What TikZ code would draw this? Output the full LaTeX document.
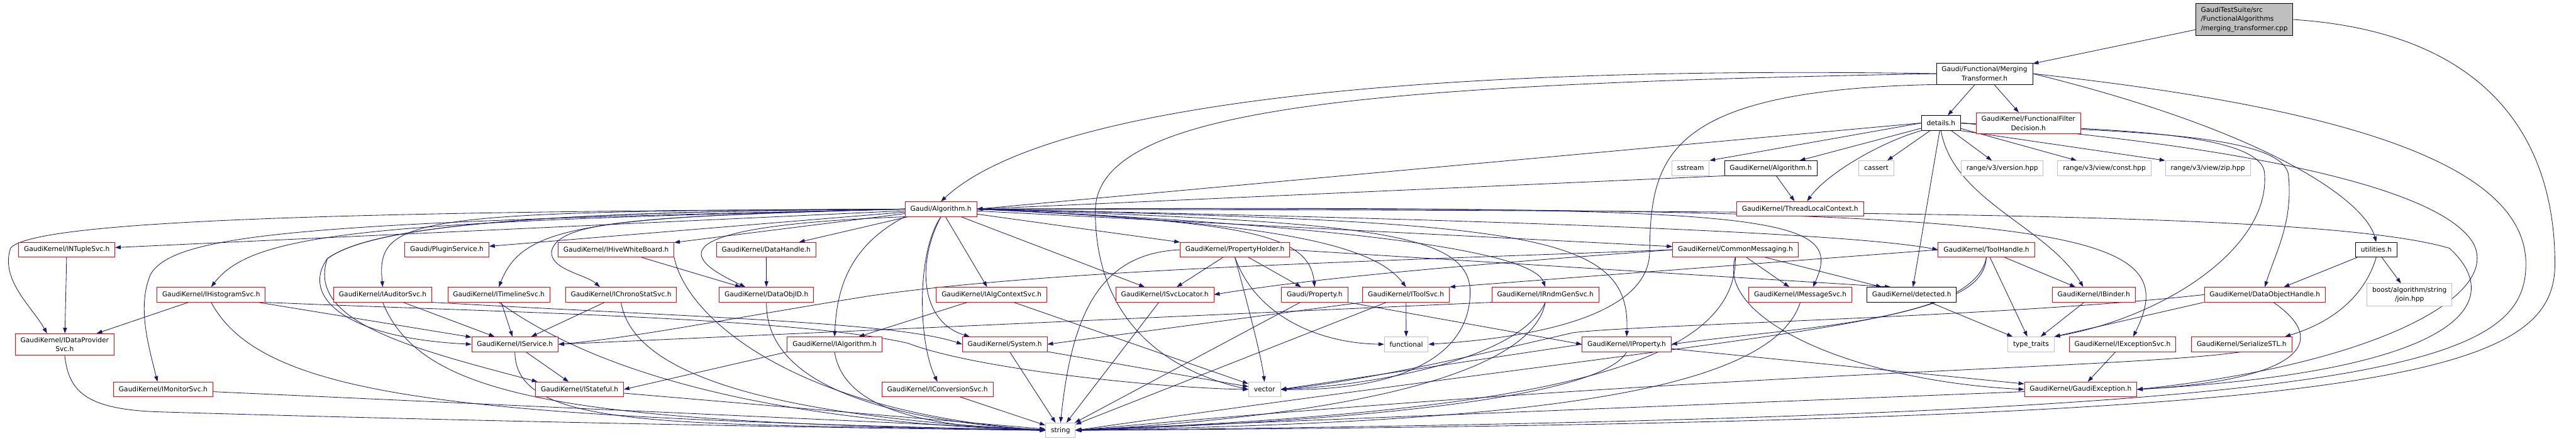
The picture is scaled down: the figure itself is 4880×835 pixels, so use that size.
\documentclass[tikz,border=0pt]{standalone}
\usepackage{fontspec}
\setmainfont{DejaVu Sans}
\usetikzlibrary{arrows.meta, backgrounds}

\definecolor{edgeblue}{HTML}{191970}
\definecolor{sysgray}{HTML}{BFBFBF}

\begin{document}
\begin{tikzpicture}[
    x=0.75pt, y=-0.75pt,
    >={Triangle[length=8pt,width=5.5pt]},
    filebox/.style={rectangle, draw=black, fill=white, line width=0.75pt, inner xsep=7.5pt, inner ysep=5pt, minimum height=21pt, font=\fontsize{9.5}{12.75}\selectfont, align=center},
    truncbox/.style={filebox, draw=red},
    sysbox/.style={filebox, draw=sysgray},
    rootbox/.style={filebox, fill=sysgray, align=left},
    dep/.style={->, edgeblue, line width=0.75pt},
]
\useasboundingbox (0,0) rectangle (4880,835);

% Top of the graph
\node[rootbox] (cpp) at (4251.5,37) {GaudiTestSuite/src\\/FunctionalAlgorithms\\/merging\_transformer.cpp};
\node[filebox] (merging) at (3759.5,139.5) {Gaudi/Functional/Merging\\Transformer.h};
\node[filebox] (details) at (3677,233) {details.h};
\node[truncbox] (filterdec) at (3842.5,233.5) {GaudiKernel/FunctionalFilter\\Decision.h};

% Headers used by details.h
\node[sysbox] (sstream) at (3202.5,318.5) {sstream};
\node[filebox] (kalgorithm) at (3354.5,318.5) {GaudiKernel/Algorithm.h};
\node[sysbox] (cassert) at (3554.5,318.5) {cassert};
\node[sysbox] (rgversion) at (3793,318.5) {range/v3/version.hpp};
\node[sysbox] (rgconst) at (3986.5,318.5) {range/v3/view/const.hpp};
\node[sysbox] (rgzip) at (4182.5,318.5) {range/v3/view/zip.hpp};
\node[truncbox] (tlcontext) at (3410,395.5) {GaudiKernel/ThreadLocalContext.h};
\node[truncbox] (algorithm) at (1782.5,396) {Gaudi/Algorithm.h};

% First row
\node[truncbox] (ntuplesvc) at (126.5,473) {GaudiKernel/INTupleSvc.h};
\node[truncbox] (pluginsvc) at (846.5,473) {Gaudi/PluginService.h};
\node[truncbox] (hivewb) at (1167,473) {GaudiKernel/IHiveWhiteBoard.h};
\node[truncbox] (datahandle) at (1451.5,473) {GaudiKernel/DataHandle.h};
\node[truncbox] (propholder) at (2339.5,473) {GaudiKernel/PropertyHolder.h};
\node[truncbox] (commonmsg) at (3287.5,473) {GaudiKernel/CommonMessaging.h};
\node[truncbox] (toolhandle) at (3763,473) {GaudiKernel/ToolHandle.h};
\node[filebox] (utilities) at (4501.5,473) {utilities.h};

% Second row
\node[truncbox] (histosvc) at (400,558) {GaudiKernel/IHistogramSvc.h};
\node[truncbox] (auditorsvc) at (725,558) {GaudiKernel/IAuditorSvc.h};
\node[truncbox] (timelinesvc) at (945,558) {GaudiKernel/ITimelineSvc.h};
\node[truncbox] (chronosvc) at (1176.5,558) {GaudiKernel/IChronoStatSvc.h};
\node[truncbox] (dataobjid) at (1452,558) {GaudiKernel/DataObjID.h};
\node[truncbox] (algctxsvc) at (1878.5,558) {GaudiKernel/IAlgContextSvc.h};
\node[truncbox] (svclocator) at (2206.5,558) {GaudiKernel/ISvcLocator.h};
\node[truncbox] (property) at (2490.5,558) {Gaudi/Property.h};
\node[truncbox] (toolsvc) at (2663.5,558) {GaudiKernel/IToolSvc.h};
\node[truncbox] (rndmgensvc) at (2927.5,558) {GaudiKernel/IRndmGenSvc.h};
\node[truncbox] (messagesvc) at (3410.5,558) {GaudiKernel/IMessageSvc.h};
\node[filebox] (detected) at (3621.5,558) {GaudiKernel/detected.h};
\node[truncbox] (binder) at (3966.5,558) {GaudiKernel/IBinder.h};
\node[truncbox] (dobjhandle) at (4290.5,558) {GaudiKernel/DataObjectHandle.h};
\node[sysbox] (boostjoin) at (4564.5,558.5) {boost/algorithm/string\\/join.hpp};

% Third row
\node[truncbox] (dataprovsvc) at (122.5,652) {GaudiKernel/IDataProvider\\Svc.h};
\node[truncbox] (service) at (975.5,652) {GaudiKernel/IService.h};
\node[truncbox] (ialgorithm) at (1581,652) {GaudiKernel/IAlgorithm.h};
\node[truncbox] (system) at (1903.5,652) {GaudiKernel/System.h};
\node[sysbox] (functional) at (2664,652) {functional};
\node[truncbox] (iproperty) at (3081.5,652) {GaudiKernel/IProperty.h};
\node[sysbox] (typetraits) at (3847.5,652) {type\_traits};
\node[truncbox] (exceptionsvc) at (4021,652) {GaudiKernel/IExceptionSvc.h};
\node[truncbox] (serializestl) at (4246.5,652) {GaudiKernel/SerializeSTL.h};

% Fourth row and bottom
\node[truncbox] (monitorsvc) at (309,737.5) {GaudiKernel/IMonitorSvc.h};
\node[truncbox] (stateful) at (1098,737.5) {GaudiKernel/IStateful.h};
\node[truncbox] (conversionsvc) at (1776,737.5) {GaudiKernel/IConversionSvc.h};
\node[sysbox] (vector) at (2395.5,737.5) {vector};
\node[truncbox] (gaudiexc) at (3941.5,737.5) {GaudiKernel/GaudiException.h};
\node[sysbox] (string) at (2009,815) {string};

\begin{scope}[on background layer]
\fill[white] (0,0) rectangle (4880,835);

% From the source file and the transformer
\draw[dep] (cpp) -- (merging);
\draw[dep] (cpp.east) .. controls (4700,60) and (4840,250) .. (4840,500) .. controls (4840,720) and (4500,800) .. (string.east);
\draw[dep] (merging) -- (details);
\draw[dep] (merging) -- (filterdec);
\draw[dep] (merging.west) .. controls (2800,125) and (2000,180) .. (algorithm.north);
\draw[dep] (merging.west) .. controls (2600,160) and (2075,200) .. (2075,400) .. controls (2075,600) and (2200,700) .. (vector.west);
\draw[dep] (merging.south west) .. controls (3150,170) and (3127,300) .. (3125,480) .. controls (3120,600) and (2900,640) .. (functional.east);
\draw[dep] (merging.east) .. controls (4300,250) and (4480,380) .. (utilities.north);
\draw[dep] (merging.east) .. controls (4400,200) and (4785,300) .. (4785,500) .. controls (4785,700) and (4500,790) .. (string.east);

% From details.h
\draw[dep] (details.west) -- (sstream.north east);
\draw[dep] (details) -- (kalgorithm);
\draw[dep] (details) -- (cassert);
\draw[dep] (details.south west) .. controls (3560,270) and (3460,330) .. ([xshift=10pt]tlcontext.north);
\draw[dep] (details.west) -- (algorithm.east);
\draw[dep] (details) -- (rgversion);
\draw[dep] (details) -- (rgconst);
\draw[dep] (details.south east) -- (rgzip.north west);
\draw[dep] (details) -- (detected);
\draw[dep] (details.south) .. controls (3700,380) and (3880,430) .. ([xshift=-15pt]binder.north);
\draw[dep] (details.east) .. controls (3900,245) and (4290,240) .. (4290,330) .. controls (4300,470) and (4100,600) .. (typetraits.north east);
\draw[dep] (details.east) .. controls (3950,250) and (4320,245) .. (4335,330) .. controls (4345,420) and (4310,480) .. (dobjhandle.north);
\draw[dep] (details.east) .. controls (4000,255) and (4600,320) .. (4685,460) .. controls (4740,560) and (4500,690) .. (gaudiexc.east);
\draw[dep] (kalgorithm.south west) -- (algorithm.east);
\draw[dep] (kalgorithm) -- (tlcontext);

% From Gaudi/Algorithm.h, left side
\draw[dep] (algorithm) -- (ntuplesvc);
\draw[dep] (algorithm.west) .. controls (600,400) and (60,420) .. (20,470) .. controls (0,530) and (60,580) .. ([xshift=-25pt]dataprovsvc.north);
\draw[dep] (algorithm.west) .. controls (600,420) and (330,440) .. (285,520) .. controls (260,580) and (280,650) .. ([xshift=-8pt]monitorsvc.north);
\draw[dep] (algorithm.west) .. controls (700,420) and (480,440) .. (histosvc.north);
\draw[dep] (algorithm.west) .. controls (780,400) and (712,410) .. (auditorsvc.north);
\draw[dep] (algorithm.west) .. controls (1000,400) and (700,430) .. (620,490) .. controls (570,560) and (650,640) .. (service.west);
\draw[dep] (algorithm.west) .. controls (1000,400) and (700,430) .. (620,490) .. controls (580,610) and (780,660) .. ([xshift=3pt]stateful.north west);
\draw[dep] (algorithm) -- (pluginsvc);
\draw[dep] (algorithm.west) .. controls (1100,410) and (990,430) .. (timelinesvc.north);
\draw[dep] (algorithm.west) .. controls (1200,410) and (1060,420) .. (1045,475) .. controls (1040,510) and (1110,520) .. ([xshift=-30pt]chronosvc.north);
\draw[dep] (algorithm) -- (hivewb);
\draw[dep] (algorithm) -- (datahandle);
\draw[dep] (algorithm.south west) .. controls (1200,430) and (1320,500) .. ([xshift=-30pt]dataobjid.north);
\draw[dep] (algorithm.south west) .. controls (1600,470) and (1585,560) .. (ialgorithm.north);
\draw[dep] (algorithm.south) .. controls (1735,480) and (1740,650) .. (conversionsvc.north);
\draw[dep] (algorithm.south) .. controls (1735,500) and (1745,610) .. ([xshift=-50pt]system.north);
\draw[dep] (algorithm) -- (algctxsvc);
\draw[dep] (algorithm) -- (svclocator);

% From Gaudi/Algorithm.h, right side
\draw[dep] (algorithm) -- (propholder);
\draw[dep] (algorithm.east) .. controls (2350,420) and (2480,440) .. (property.north);
\draw[dep] (algorithm.east) .. controls (2400,420) and (2600,460) .. (toolsvc.north);
\draw[dep] (algorithm.east) .. controls (2500,425) and (2900,470) .. (rndmgensvc.north);
\draw[dep] (algorithm) -- (commonmsg);
\draw[dep] (algorithm.east) .. controls (3350,390) and (3500,400) .. ([xshift=18pt]messagesvc.north);
\draw[dep] (algorithm.east) .. controls (2800,415) and (3500,440) .. (toolhandle.west);
\draw[dep] (algorithm.east) .. controls (2900,420) and (3090,440) .. (iproperty.north);
\draw[dep] (algorithm.east) .. controls (3900,390) and (4150,420) .. ([xshift=15pt]exceptionsvc.north);
\draw[dep] (algorithm.east) .. controls (3500,400) and (4400,400) .. (4640,470) .. controls (4740,560) and (4700,700) .. (gaudiexc.east);
\draw[dep] (algorithm.east) .. controls (2600,420) and (2790,440) .. (2785,558) .. controls (2780,700) and (2600,740) .. (vector.east);

% Services on the left
\draw[dep] (ntuplesvc) -- (dataprovsvc);
\draw[dep] (histosvc) -- (dataprovsvc);
\draw[dep] (histosvc) -- (service);
\draw[dep] (histosvc.south) .. controls (500,760) and (900,790) .. (string.west);
\draw[dep] (histosvc.south east) .. controls (900,590) and (1500,600) .. (1720,650) .. controls (1850,700) and (2200,735) .. (vector.west);
\draw[dep] (auditorsvc) -- (service);
\draw[dep] (auditorsvc.south) .. controls (800,760) and (1100,800) .. (string.west);
\draw[dep] (auditorsvc.south east) .. controls (1300,600) and (1700,610) .. (system.west);
\draw[dep] (timelinesvc) -- (service);
\draw[dep] (timelinesvc.south) .. controls (1150,720) and (1500,800) .. (string.west);
\draw[dep] (chronosvc) -- (service);
\draw[dep] (chronosvc.south) .. controls (1200,720) and (1500,790) .. (string.west);
\draw[dep] (hivewb) -- (dataobjid);
\draw[dep] (hivewb.south east) .. controls (1300,600) and (1500,780) .. (string.west);
\draw[dep] (datahandle) -- (dataobjid);
\draw[dep] (dataobjid.south) .. controls (1450,700) and (1600,790) .. (string.west);
\draw[dep] (algctxsvc) -- (ialgorithm);
\draw[dep] (algctxsvc) -- (vector);
\draw[dep] (svclocator) -- (string);

% Property holder and messaging
\draw[dep] (propholder) -- (svclocator);
\draw[dep] (propholder) -- (property);
\draw[dep] (propholder.south) .. controls (2370,600) and (2390,680) .. (vector.north);
\draw[dep] (propholder.south) .. controls (2380,600) and (2500,650) .. (functional.west);
\draw[dep] (propholder.east) -- ([xshift=-30pt]detected.north);
\draw[dep] (propholder.west) .. controls (2080,480) and (2030,600) .. (string.north);
\draw[dep] (commonmsg.west) .. controls (2600,495) and (2000,510) .. (1650,560) .. controls (1400,600) and (1200,640) .. (service.east);
\draw[dep] (commonmsg.west) .. controls (2800,500) and (2500,525) .. (svclocator.east);
\draw[dep] (commonmsg) -- (messagesvc);
\draw[dep] (commonmsg) -- (detected);
\draw[dep] (commonmsg.south) .. controls (3250,600) and (3500,720) .. (gaudiexc.west);
\draw[dep] (commonmsg.south) .. controls (3290,700) and (2900,780) .. (string.east);

% Tool handle, utilities and handles
\draw[dep] (toolhandle.west) -- (toolsvc.north east);
\draw[dep] (toolhandle) -- (binder);
\draw[dep] (toolhandle) -- (typetraits);
\draw[dep] (toolhandle.south) .. controls (3740,610) and (3400,620) .. (iproperty.east);
\draw[dep] (toolhandle.south) .. controls (3755,620) and (3400,620) .. (string.east);
\draw[dep] (utilities) -- (dobjhandle);
\draw[dep] (utilities.south) .. controls (4480,560) and (4420,610) .. ([xshift=-10pt]serializestl.north east);
\draw[dep] (utilities) -- (boostjoin);
\draw[dep] (detected) -- (typetraits);
\draw[dep] (binder) -- (typetraits);
\draw[dep] (dobjhandle.south west) -- (typetraits.north east);
\draw[dep] ([xshift=12pt]dobjhandle.south) .. controls (4420,650) and (4350,720) .. (gaudiexc.east);
\draw[dep] (dobjhandle.west) .. controls (3800,600) and (3100,615) .. (2980,630) .. controls (2850,660) and (2600,720) .. (vector.east);

% Second row to lower rows
\draw[dep] (property.south east) -- (iproperty.west);
\draw[dep] (property) -- (string);
\draw[dep] (toolsvc) -- (functional);
\draw[dep] (toolsvc) -- (string);
\draw[dep] (toolsvc.south west) -- (system.east);
\draw[dep] (rndmgensvc.south west) -- (service.east);
\draw[dep] (rndmgensvc.south) .. controls (2880,680) and (2600,730) .. (vector.east);
\draw[dep] (rndmgensvc.south) .. controls (2900,720) and (2500,790) .. (string.east);
\draw[dep] (messagesvc.south) .. controls (3350,760) and (2800,800) .. (string.east);

% Lower rows
\draw[dep] (service) -- (stateful);
\draw[dep] (service.south) .. controls (975,820) and (1300,800) .. (string.west);
\draw[dep] (ialgorithm.south west) -- (stateful.east);
\draw[dep] (ialgorithm.south) .. controls (1600,790) and (1800,810) .. (string.west);
\draw[dep] (system) -- (string);
\draw[dep] (system) -- (vector);
\draw[dep] (iproperty.west) -- (vector.east);
\draw[dep] (iproperty.south) .. controls (3030,760) and (2500,800) .. (string.east);
\draw[dep] (iproperty) -- (gaudiexc);
\draw[dep] (exceptionsvc) -- (gaudiexc);
\draw[dep] (serializestl.south) .. controls (4000,700) and (3300,700) .. (string.east);
\draw[dep] (dataprovsvc.south) .. controls (130,740) and (160,775) .. (300,780) .. controls (800,795) and (1500,810) .. (string.west);
\draw[dep] (monitorsvc) -- (string);
\draw[dep] (stateful) -- (string);
\draw[dep] (conversionsvc) -- (string);
\draw[dep] (gaudiexc) -- (string);
\end{scope}

\end{tikzpicture}
\end{document}
